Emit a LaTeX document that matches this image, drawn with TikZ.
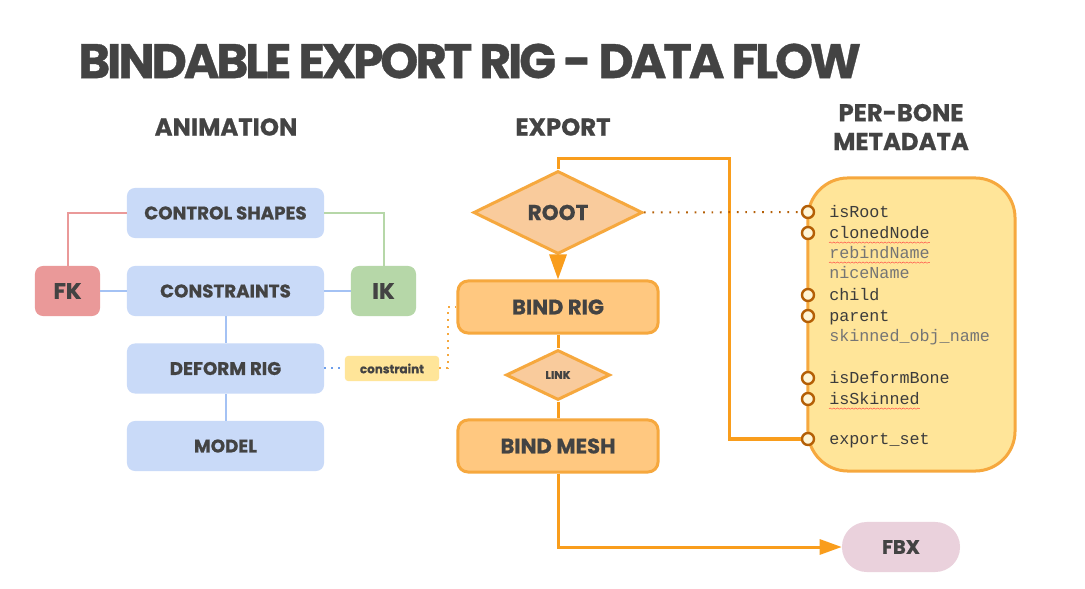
\documentclass[tikz,border=0pt]{standalone}
\usepackage{fontspec}
\setmainfont{Poppins}[BoldFeatures={FakeBold=0.7}]
\newfontfamily\monofont{Liberation Mono}
\usepackage{xcolor}
\usepackage{tikz}
\usetikzlibrary{shapes,arrows.meta,positioning,decorations.pathmorphing}

\definecolor{inkgray}{HTML}{434343}
\definecolor{animblue}{HTML}{C9DAF8}
\definecolor{linkblue}{HTML}{A4C2F4}
\definecolor{dotblue}{HTML}{6D9EEB}
\definecolor{fkred}{HTML}{EA9999}
\definecolor{ikgreen}{HTML}{B6D7A8}
\definecolor{tagyellow}{HTML}{FFE599}
\definecolor{rootfill}{HTML}{F9CB9C}
\definecolor{bindfill}{HTML}{FFC880}
\definecolor{bindline}{HTML}{F6A83E}
\definecolor{flowline}{HTML}{F99D1C}
\definecolor{pinbrown}{HTML}{B45F06}
\definecolor{fbxpink}{HTML}{EAD1DC}
\definecolor{metagray}{HTML}{757575}
\definecolor{metaink}{HTML}{3C3C3C}

\begin{document}
\begin{tikzpicture}[
    x=0.025cm, y=-0.025cm,
    text=inkgray,
    animbox/.style={
        rectangle,
        rounded corners=0.2cm,
        fill=animblue,
        minimum width=4.925cm,
        minimum height=1.25cm,
        font=\fontsize{13}{15}\selectfont\bfseries
        },
    kinbox/.style={
        rectangle,
        rounded corners=0.2cm,
        minimum width=1.625cm,
        minimum height=1.25cm,
        font=\fontsize{16}{18}\selectfont\bfseries
        },
    bindbox/.style={
        rectangle,
        rounded corners=0.25cm,
        draw=bindline,
        line width=0.075cm,
        fill=bindfill,
        minimum width=5cm,
        minimum height=1.3cm,
        font=\fontsize{15}{17}\selectfont\bfseries
        },
    gate/.style={
        diamond,
        aspect=2,
        inner sep=0pt,
        draw=bindline,
        line width=0.075cm,
        fill=rootfill
        },
    pin/.style={
        circle,
        draw=pinbrown,
        line width=0.06cm,
        fill=tagyellow!40,
        inner sep=0pt,
        minimum size=0.3cm
        },
    metatext/.style={
        anchor=base west,
        inner sep=0pt,
        text=metaink,
        font=\fontsize{11.9}{13}\monofont
        },
    squiggle/.style={
        red!75,
        line width=0.3pt,
        decorate,
        decoration={snake, amplitude=0.45pt, segment length=2.6pt}
        },
    flow/.style={
        draw=flowline,
        line width=0.075cm
        }
    ]

    % page
    \fill[white] (0,0) rectangle (1085,589);
    \useasboundingbox (0,0) rectangle (1085,589);

    % titles
    \node[anchor=west, inner sep=0pt, font=\fontsize{34.5}{38}\selectfont\bfseries\addfontfeatures{LetterSpace=-6.5}] (title) at (78,61) {BINDABLE EXPORT RIG - DATA FLOW};
    \node[font=\fontsize{17.3}{20}\selectfont\bfseries] (animhead) at (226,127) {ANIMATION};
    \node[font=\fontsize{17.3}{20}\selectfont\bfseries] (exporthead) at (563,127) {EXPORT};
    \node[font=\fontsize{17.3}{20.5}\selectfont\bfseries, align=center] (metahead) at (901,127) {PER-BONE\\METADATA};

    % animation column
    \node[animbox] (cshapes) at (225.5,213) {CONTROL SHAPES};
    \node[animbox] (constr) at (225.5,291) {CONSTRAINTS};
    \node[animbox] (deform) at (225.5,368.5) {DEFORM RIG};
    \node[animbox] (model) at (225.5,446) {MODEL};
    \node[kinbox, fill=fkred] (fk) at (67.5,291) {FK};
    \node[kinbox, fill=ikgreen] (ik) at (383.5,291) {IK};
    \node[
        rectangle,
        rounded corners=0.075cm,
        fill=tagyellow,
        minimum width=2.35cm,
        minimum height=0.625cm,
        font=\fontsize{8.5}{10}\selectfont\bfseries
        ] (tag) at (392,368.5) {constraint};

    \draw[fkred, line width=0.05cm] (cshapes.west) -| (fk.north);
    \draw[ikgreen, line width=0.05cm] (cshapes.east) -| (ik.north);
    \draw[linkblue, line width=0.05cm] (fk) -- (constr);
    \draw[linkblue, line width=0.05cm] (constr) -- (ik);
    \draw[linkblue, line width=0.05cm] (constr) -- (deform);
    \draw[linkblue, line width=0.05cm] (deform) -- (model);
    \draw[dotblue, line width=0.05cm, dash pattern=on 1.2pt off 3.8pt] (deform.east) -- (tag.west);

    % export column
    \node[gate, minimum width=4.225cm, minimum height=2.075cm, font=\fontsize{15.3}{17}\selectfont\bfseries] (root) at (558,212.5) {ROOT};
    \node[bindbox] (bindrig) at (558,307) {BIND RIG};
    \node[gate, minimum width=2.6cm, minimum height=1.25cm, font=\fontsize{8}{9}\selectfont\bfseries] (link) at (558,375) {LINK};
    \node[bindbox] (bindmesh) at (558,446) {BIND MESH};
    \node[
        rectangle,
        rounded corners=0.62cm,
        fill=fbxpink,
        minimum width=2.95cm,
        minimum height=1.25cm,
        font=\fontsize{14}{16}\selectfont\bfseries
        ] (fbx) at (901,547) {FBX};

    \coordinate (dotbend) at (448,307);
    \draw[bindline, line width=0.05cm, dash pattern=on 1.2pt off 3.8pt] (tag.east) -| (dotbend) -- (bindrig.west);

    \draw[flow, -{Triangle[length=0.625cm, width=0.425cm]}] (root.south) -- (bindrig.north);
    \draw[flow] (bindrig.south) -- (link.north);
    \draw[flow] (link.south) -- (bindmesh.north);
    \draw[flow, -{Triangle[length=0.55cm, width=0.375cm]}] (bindmesh.south) |- (fbx.west);

    % per-bone metadata
    \node[
        rectangle,
        rounded corners=1cm,
        draw=bindline,
        line width=0.075cm,
        fill=tagyellow,
        minimum width=5.175cm,
        minimum height=7.325cm
        ] (meta) at (911.5,324.5) {};

    \node[metatext] (mroot) at (829,218) {isRoot};
    \node[metatext] (mcloned) at (829,239) {clonedNode};
    \node[metatext, text=metagray] (mrebind) at (829,259) {rebindName};
    \node[metatext, text=metagray] (mnice) at (829,279) {niceName};
    \node[metatext] (mchild) at (829,301) {child};
    \node[metatext] (mparent) at (829,322) {parent};
    \node[metatext, text=metagray] (mskin) at (829,342) {skinned\_obj\_name};
    \node[metatext] (mdeform) at (829,384) {isDeformBone};
    \node[metatext] (mskinned) at (829,405) {isSkinned};
    \node[metatext] (mexport) at (829,445) {export\_set};

    \draw[squiggle] ([yshift=-0.09cm]mcloned.base west) -- ([yshift=-0.09cm]mcloned.base east);
    \draw[squiggle] ([yshift=-0.09cm]mrebind.base west) -- ([yshift=-0.09cm]mrebind.base east);
    \draw[squiggle] ([yshift=-0.09cm]mskinned.base west) -- ([yshift=-0.09cm]mskinned.base east);

    \node[pin] (proot) at (808,212) {};
    \node[pin] (pcloned) at (808,233) {};
    \node[pin] (pchild) at (808,295) {};
    \node[pin] (pparent) at (808,316) {};
    \node[pin] (pdeform) at (808,378) {};
    \node[pin] (pskinned) at (808,399) {};
    \node[pin] (pexport) at (808,439) {};

    \coordinate (loop) at (729,159);
    \draw[flow] (root.north) |- (loop) |- (pexport.west);
    \draw[pinbrown, line width=0.05cm, dash pattern=on 1.2pt off 4.8pt] (root.east) -- (proot.west);

\end{tikzpicture}
\end{document}
